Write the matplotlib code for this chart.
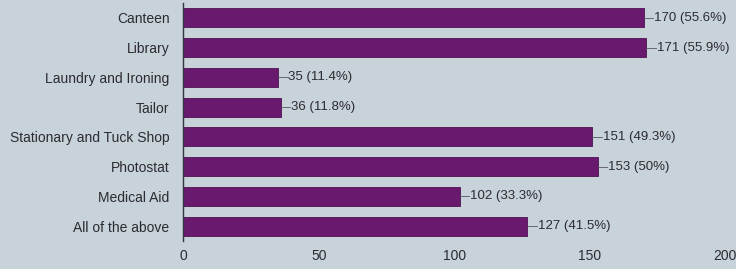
import matplotlib
matplotlib.use("Agg")
import matplotlib.pyplot as plt

categories = ["Canteen", "Library", "Laundry and Ironing", "Tailor",
              "Stationary and Tuck Shop", "Photostat", "Medical Aid", "All of the above"]
counts = [170, 171, 35, 36, 151, 153, 102, 127]
percents = ["55.6%", "55.9%", "11.4%", "11.8%", "49.3%", "50%", "33.3%", "41.5%"]
xticks = [0, 50, 100, 150, 200]

bg = "#c8d2d9"
bar_color = "#69196e"
text_color = "#2b2b33"

plt.rcParams['font.family'] = ['Liberation Sans', 'DejaVu Sans']
fig = plt.figure(figsize=(7.36, 2.69), dpi=100, facecolor=bg)
ax = fig.add_axes([0.249, 0.104, 0.736, 0.885], facecolor=bg)

y = list(range(len(categories)))
ax.barh(y, counts, height=0.64, color=bar_color, edgecolor="#4e1052", linewidth=0.6)
ax.set_ylim(len(categories) - 0.5, -0.5)
ax.set_xlim(0, 200)
ax.set_yticks(y)
ax.set_yticklabels(categories, fontsize=10, color=text_color)
ax.set_xticks(xticks)
ax.set_xticklabels([str(t) for t in xticks], fontsize=10, color=text_color)
ax.tick_params(axis='y', length=0, pad=10)
ax.tick_params(axis='x', length=0, pad=6)
for s in ["top", "right", "bottom"]:
    ax.spines[s].set_visible(False)
ax.spines["left"].set_color("#333344")
ax.spines["left"].set_linewidth(1.0)

for yi, c, p in zip(y, counts, percents):
    ax.plot([c, c + 3.5], [yi, yi], color="#555566", lw=0.6, clip_on=False)
    ax.text(c + 3.8, yi, f"{c} ({p})", va="center", ha="left", fontsize=9.5,
            color=text_color, clip_on=False)

fig.savefig("out.png", dpi=100, facecolor=bg)
